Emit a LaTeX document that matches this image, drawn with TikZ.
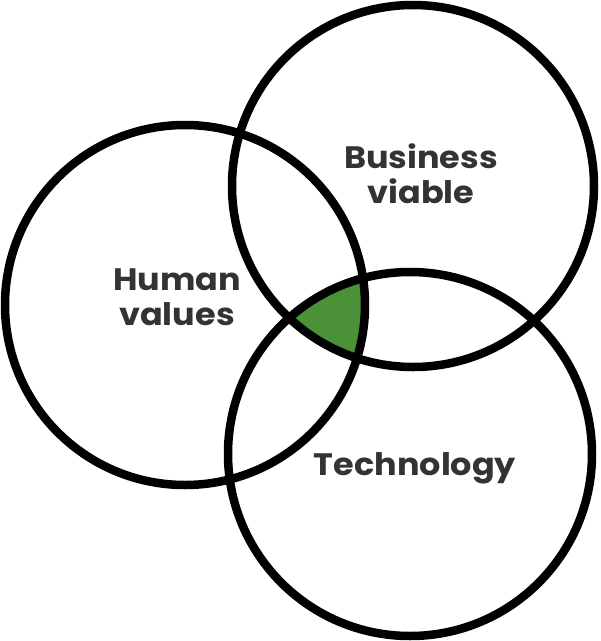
\documentclass[tikz,border=0pt]{standalone}
\usepackage{fontspec}
\setmainfont{Poppins}[UprightFont=* SemiBold, BoldFont=* Bold, FakeStretch=1.08]
\definecolor{vgreen}{RGB}{74,145,56}
\definecolor{vtext}{RGB}{51,51,51}
\tikzset{
  ring/.style={draw=black, line width=8.5pt, fill=none},
  lbl/.style={text=vtext, font=\fontsize{31}{35}\selectfont\bfseries, align=center, inner sep=0pt}
}
\begin{document}
\begin{tikzpicture}[x=1pt,y=-1pt]
\useasboundingbox (0,0) rectangle (601,641);
\coordinate (ch) at (185,305);
\coordinate (cb) at (413,186);
\coordinate (ct) at (410,454);
\begin{scope}
  \clip (ch) circle (180);
  \clip (cb) circle (181);
  \fill[vgreen] (ct) circle (182);
\end{scope}
\draw[ring] (ch) circle (180);
\draw[ring] (cb) circle (181);
\draw[ring] (ct) circle (182);
\node[lbl] (hv) at (177,297) {Human\\values};
\node[lbl] (bv) at (421,174) {Business\\viable};
\node[lbl] (tc) at (415,468) {Technology};
\end{tikzpicture}
\end{document}
